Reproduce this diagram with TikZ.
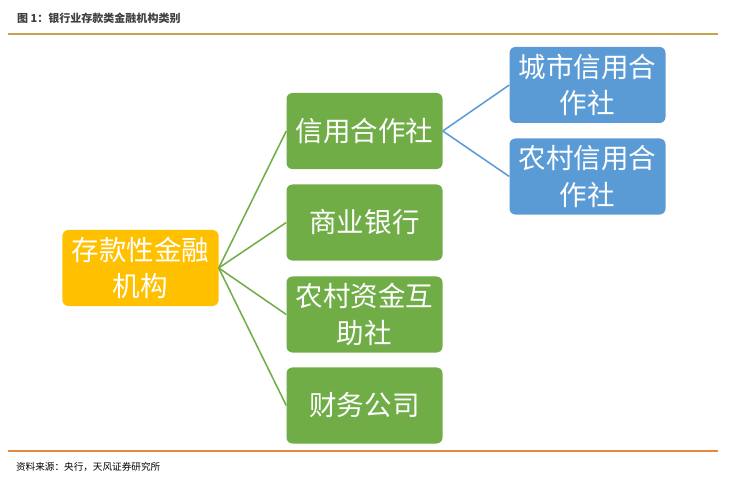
\documentclass[tikz,border=0pt]{standalone}
\usepackage{fontspec}
\setmainfont{Noto Sans CJK SC}
\usepackage{tikz}
\usetikzlibrary{positioning}
\definecolor{DepOrange}{HTML}{FFC000}
\definecolor{DepGreen}{HTML}{70AD47}
\definecolor{DepBlue}{HTML}{5B9BD5}
\definecolor{DepGold}{HTML}{C9A24E}
\definecolor{DepRule}{HTML}{E8883C}
\definecolor{DepText}{HTML}{404040}

\begin{document}
\begin{tikzpicture}[
      x=0.03cm,y=-0.03cm,
      box/.style={rounded corners=5pt,minimum width=4.68cm,minimum height=2.28cm,
        text=white,align=center,inner sep=2pt,font=\fontsize{23.5}{31}\selectfont},
      rootbox/.style={box,fill=DepOrange},
      typebox/.style={box,fill=DepGreen},
      subbox/.style={box,fill=DepBlue},
      greenlink/.style={color=DepGreen,line width=1.3pt},
      bluelink/.style={color=DepBlue,line width=1.3pt}
    ]
      \useasboundingbox (0,0) rectangle (729,483);

      % header and footer
      \node[anchor=west,font=\fontsize{9.4}{11}\selectfont\bfseries,color=DepText]
        (title) at (13,18) {图 1：银行业存款类金融机构类别};
      \draw[DepGold,line width=1pt] (8,34) -- (718,34);
      \draw[DepRule,line width=1.6pt] (8,451) -- (718,451);
      \node[anchor=west,font=\fontsize{8.2}{10}\selectfont,color=black]
        (source) at (12,467) {资料来源：央行，天风证券研究所};

      % boxes
      \node[rootbox] (root) at (140.5,268) {存款性金融\\机构};
      \node[typebox] (credit) at (364.5,131) {信用合作社};
      \node[typebox] (bank) at (364.5,222.5) {商业银行};
      \node[typebox] (mutual) at (364.5,314.5) {农村资金互\\助社};
      \node[typebox] (finance) at (364.5,405.5) {财务公司};
      \node[subbox] (urban) at (587.5,85) {城市信用合\\作社};
      \node[subbox] (rural) at (587.5,176.5) {农村信用合\\作社};

      \foreach \t in {credit,bank,mutual,finance}
        \draw[greenlink] (root.east) -- (\t.west);
      \foreach \s in {urban,rural}
        \draw[bluelink] (credit.east) -- (\s.west);
    \end{tikzpicture}
\end{document}
